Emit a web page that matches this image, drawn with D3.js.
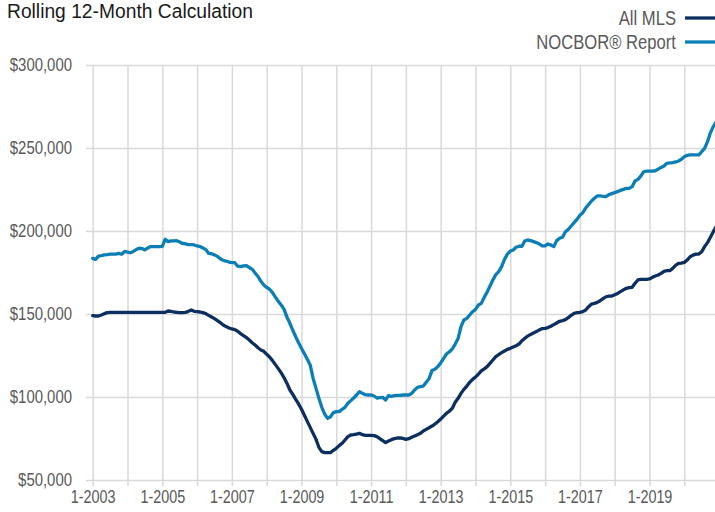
<!DOCTYPE html>
<html>
<head>
<meta charset="utf-8">
<script src="https://cdn.jsdelivr.net/npm/d3@7"></script>
<style>
  html, body { margin: 0; padding: 0; background: #fff; }
  svg { display: block; }
  text { font-family: "Liberation Sans Narrow", "Arial Narrow", "Liberation Sans", sans-serif; }
</style>
</head>
<body>
<svg id="chart" width="715" height="512"></svg>
<script>
// ---- Data (values in thousands of dollars) ----
const startYear = 2003;
const endYear = 2020;
const months = [];
for (let y = startYear; y <= endYear; y++) for (let m = 1; m <= 12; m++) months.push(`${m}-${y}`);

const yearTicks = d3.range(startYear, endYear + 1).map(y => `1-${y}`);
const tickLabels = ["1-2003","1-2005","1-2007","1-2009","1-2011","1-2013","1-2015","1-2017","1-2019"];
const yTicks = [50, 100, 150, 200, 250, 300];

const seriesNames = ["All MLS", "NOCBOR® Report"];

const allMLS = [
  149.0,148.8,148.8,149.4,150.2,150.8,151.0,151.0,151.0,151.0,151.0,151.0,
  151.0,151.0,151.0,151.0,151.0,151.0,151.0,151.0,151.0,151.0,151.0,151.0,
  151.0,151.0,151.8,151.6,151.2,151.0,150.8,150.8,151.0,151.6,152.4,151.6,
  151.4,151.2,150.8,150.2,149.2,148.2,147.2,146.0,144.8,143.4,142.4,141.6,
  141.0,140.6,139.6,138.2,137.0,135.8,134.3,132.7,131.3,129.7,128.3,127.5,
  125.7,124.1,121.9,119.5,117.1,114.5,111.6,108.2,104.2,101.6,98.6,95.8,
  92.6,89.0,85.3,81.7,78.1,74.5,69.7,67.1,66.5,66.5,66.5,67.9,
  69.1,70.7,72.1,74.1,76.1,77.1,77.3,77.7,78.1,77.3,76.9,76.9,
  76.9,76.7,76.1,74.9,73.7,72.5,73.5,74.3,74.9,75.3,75.3,75.1,
  74.5,74.9,75.7,76.5,77.3,78.1,79.5,80.5,81.5,82.5,83.7,85.1,
  86.7,88.5,90.2,91.5,93.2,96.8,99.2,102.2,104.6,106.6,108.8,110.6,
  112.0,113.8,115.7,116.9,118.3,120.3,122.3,124.3,125.5,126.7,127.7,128.7,
  129.3,130.1,130.9,131.9,133.9,135.3,136.7,137.7,138.6,139.4,140.4,141.2,
  141.4,141.8,142.6,143.6,144.6,145.6,146.0,146.6,147.8,149.2,150.4,150.8,
  151.0,151.4,152.4,154.4,156.0,156.4,157.0,158.0,159.2,160.4,160.8,160.8,
  161.6,162.4,163.5,164.5,165.5,165.9,166.1,168.5,170.5,170.9,170.9,170.9,
  171.1,172.1,172.9,173.5,174.5,175.7,176.1,176.1,177.5,179.3,180.5,180.7,
  181.1,182.5,184.5,185.5,186.1,186.1,187.5,190.6,193.0,196.2,199.6,202.6
];

const nocbor = [
  183.5,182.9,184.9,185.2,185.6,185.8,186.1,186.1,186.1,186.5,186.0,187.7,
  187.3,186.9,187.7,188.8,189.6,189.4,188.6,189.8,190.6,190.6,190.6,190.6,
  190.8,195.0,193.6,194.0,194.0,194.2,193.4,192.5,192.2,191.8,191.8,191.6,
  191.0,190.6,189.8,188.8,186.5,186.3,185.6,184.7,183.3,182.3,181.9,181.3,
  180.9,180.9,178.8,178.5,179.0,179.1,178.0,176.9,174.7,172.6,169.7,167.5,
  166.0,164.9,162.9,160.2,157.6,155.4,152.8,148.0,144.4,140.2,136.3,132.7,
  129.3,126.1,122.7,119.3,111.2,105.2,99.2,93.8,89.7,87.1,88.1,90.6,
  91.2,91.2,92.6,93.8,96.2,97.8,99.4,101.2,103.2,102.2,101.4,101.2,
  101.2,100.6,99.4,99.6,99.8,98.2,100.8,100.4,100.8,101.0,101.0,101.2,
  101.2,101.2,102.2,104.2,105.8,106.2,106.6,108.8,111.2,115.9,116.7,118.3,
  120.5,123.3,125.9,127.3,128.9,131.9,135.3,142.4,146.4,147.4,149.4,151.4,
  152.8,155.4,156.4,160.0,163.2,166.9,170.5,173.7,175.5,178.5,182.9,186.1,
  187.9,188.6,190.2,190.8,190.8,194.0,194.6,194.2,193.6,193.0,192.2,191.0,
  191.0,192.2,191.6,190.6,194.2,195.6,196.2,199.6,201.0,203.0,205.0,207.0,
  209.5,211.0,213.8,216.0,218.1,219.7,221.1,221.1,220.9,220.7,221.9,222.5,
  223.1,223.7,224.5,225.1,225.7,225.7,226.7,230.1,231.1,233.1,235.7,236.1,
  236.1,236.1,236.3,237.3,238.3,239.2,240.8,241.0,241.2,241.6,242.2,243.2,
  244.8,245.6,245.8,245.8,245.8,245.8,247.8,249.8,253.8,259.2,262.9,265.6
];

// ---- Layout ----
const W = 715, H = 512;
const plot = { left: 92.7, right: 716.2, top: 65, bottom: 480 };
const colors = { mls: "#0d2f5f", noc: "#0b7fb5", grid: "#d9d9d9", text: "#595959", title: "#1a1a1a" };
const narrow = 0.82; // emulate a condensed face

function condense(sel, factor) {
  sel.each(function () {
    const w = this.getComputedTextLength();
    d3.select(this).attr("textLength", w * factor).attr("lengthAdjust", "spacingAndGlyphs");
  });
}

const svg = d3.select("#chart");

const x = d3.scalePoint().domain(months).range([plot.left, plot.right]);
const y = d3.scaleLinear().domain([50, 300]).range([plot.bottom, plot.top]);

// Horizontal gridlines + y labels
const yAxis = d3.axisLeft(y)
  .tickValues(yTicks)
  .tickSize(-(W - 86))
  .tickPadding(14)
  .tickFormat(d => d3.format("$,")(d * 1000));
const gy = svg.append("g").attr("transform", "translate(86,0)").call(yAxis);
gy.select(".domain").remove();
gy.selectAll(".tick line").attr("stroke", colors.grid).attr("stroke-width", 1.5);
gy.selectAll(".tick text").attr("fill", colors.text).style("font-size", "18.2px").call(condense, narrow);

// Vertical gridlines + x labels
const xAxis = d3.axisBottom(x)
  .tickValues(yearTicks)
  .tickSize(-(486 - plot.top))
  .tickPadding(4.5)
  .tickFormat(d => tickLabels.includes(d) ? d : "");
const gx = svg.append("g").attr("transform", "translate(0,486)").call(xAxis);
gx.select(".domain").remove();
gx.selectAll(".tick line").attr("stroke", colors.grid).attr("stroke-width", 1.5);
gx.selectAll(".tick text").filter(d => tickLabels.includes(d))
  .attr("fill", colors.text).style("font-size", "17.5px").call(condense, narrow);

// Lines
const line = d3.line().x((d, i) => x(months[i])).y(d => y(d));
svg.append("path").datum(allMLS).attr("d", line)
  .attr("fill", "none").attr("stroke", colors.mls).attr("stroke-width", 3.3)
  .attr("stroke-linejoin", "round").attr("stroke-linecap", "round");
svg.append("path").datum(nocbor).attr("d", line)
  .attr("fill", "none").attr("stroke", colors.noc).attr("stroke-width", 3.3)
  .attr("stroke-linejoin", "round").attr("stroke-linecap", "round");

// Title
svg.append("text").attr("x", 7).attr("y", 17.5)
  .attr("fill", colors.title).style("font-size", "19.5px")
  .attr("textLength", 246).attr("lengthAdjust", "spacingAndGlyphs")
  .text("Rolling 12-Month Calculation");

// Legend
const legend = [
  { name: seriesNames[0], color: colors.mls, y: 18 },
  { name: seriesNames[1], color: colors.noc, y: 42 }
];
const lg = svg.append("g");
legend.forEach(l => {
  lg.append("text").attr("x", 676).attr("y", l.y + 7)
    .attr("text-anchor", "end").attr("fill", colors.text).style("font-size", "20.3px")
    .text(l.name).call(condense, narrow);
  lg.append("line").attr("x1", 685).attr("x2", 716).attr("y1", l.y).attr("y2", l.y)
    .attr("stroke", l.color).attr("stroke-width", 3.3);
});
</script>
</body>
</html>
